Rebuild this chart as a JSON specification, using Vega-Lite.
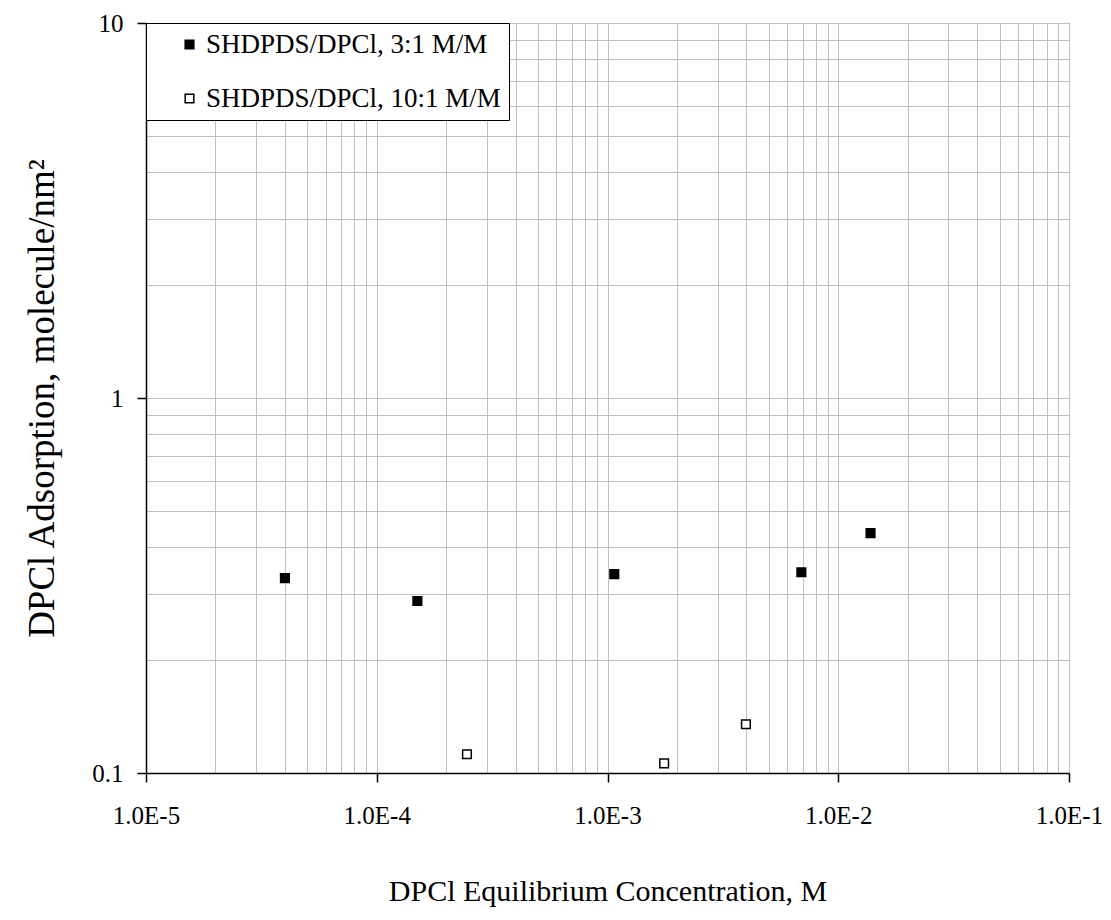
{
  "$schema": "https://vega.github.io/schema/vega-lite/v6.json",
  "width": 923,
  "height": 750,
  "autosize": {"type": "none"},
  "padding": {"left": 146, "top": 23, "right": 42, "bottom": 147},
  "background": "white",
  "config": {
    "font": "Liberation Serif",
    "view": {"stroke": "#000", "strokeWidth": 1},
    "axis": {
      "grid": true,
      "gridColor": "#c0c0c0",
      "gridWidth": 1,
      "domainColor": "#000",
      "domainWidth": 1.5,
      "tickColor": "#000",
      "tickWidth": 1.5,
      "labelFont": "Liberation Serif",
      "labelFontSize": 25,
      "labelColor": "#000",
      "titleFont": "Liberation Serif",
      "titleFontSize": 30,
      "titleFontWeight": "normal",
      "titleColor": "#000",
      "labelFlush": false,
      "labelOverlap": false
    }
  },
  "data": {
    "values": [
      {"series": "SHDPDS/DPCl, 3:1 M/M", "conc": 0.00004, "ads": 0.331},
      {"series": "SHDPDS/DPCl, 3:1 M/M", "conc": 0.00015, "ads": 0.2875},
      {"series": "SHDPDS/DPCl, 3:1 M/M", "conc": 0.00107, "ads": 0.339},
      {"series": "SHDPDS/DPCl, 3:1 M/M", "conc": 0.00692, "ads": 0.343},
      {"series": "SHDPDS/DPCl, 3:1 M/M", "conc": 0.0138, "ads": 0.436},
      {"series": "SHDPDS/DPCl, 10:1 M/M", "conc": 0.000246, "ads": 0.1122},
      {"series": "SHDPDS/DPCl, 10:1 M/M", "conc": 0.00176, "ads": 0.1061},
      {"series": "SHDPDS/DPCl, 10:1 M/M", "conc": 0.00398, "ads": 0.1349}
    ]
  },
  "mark": {"type": "square", "size": 75, "stroke": "#000", "strokeWidth": 1.5, "opacity": 1},
  "encoding": {
    "x": {
      "field": "conc",
      "type": "quantitative",
      "scale": {"type": "log", "domain": [0.00001, 0.1], "nice": false},
      "axis": {
        "title": "DPCl Equilibrium Concentration, M",
        "values": [0.00001, 0.00002, 0.00003, 0.00004, 0.00005, 0.00006, 0.00007, 0.00008, 0.00009,
                   0.0001, 0.0002, 0.0003, 0.0004, 0.0005, 0.0006, 0.0007, 0.0008, 0.0009,
                   0.001, 0.002, 0.003, 0.004, 0.005, 0.006, 0.007, 0.008, 0.009,
                   0.01, 0.02, 0.03, 0.04, 0.05, 0.06, 0.07, 0.08, 0.09, 0.1],
        "labelExpr": "abs(log(datum.value)/LN10 - round(log(datum.value)/LN10)) < 0.001 ? '1.0E-' + round(-log(datum.value)/LN10) : ''",
        "tickSize": {"condition": {"test": "abs(log(datum.value)/LN10 - round(log(datum.value)/LN10)) < 0.001", "value": 9}, "value": 0},
        "labelPadding": 21,
        "titlePadding": 48
      }
    },
    "y": {
      "field": "ads",
      "type": "quantitative",
      "scale": {"type": "log", "domain": [0.1, 10], "nice": false},
      "axis": {
        "title": "DPCl Adsorption, molecule/nm²",
        "titleFontSize": 37,
        "values": [0.1, 0.2, 0.3, 0.4, 0.5, 0.6, 0.7, 0.8, 0.9,
                   1, 2, 3, 4, 5, 6, 7, 8, 9, 10],
        "labelExpr": "abs(log(datum.value)/LN10 - round(log(datum.value)/LN10)) < 0.001 ? format(datum.value, '~g') : ''",
        "tickSize": {"condition": {"test": "abs(log(datum.value)/LN10 - round(log(datum.value)/LN10)) < 0.001", "value": 9}, "value": 0},
        "labelPadding": 14,
        "titlePadding": 30
      }
    },
    "fill": {
      "field": "series",
      "type": "nominal",
      "scale": {"domain": ["SHDPDS/DPCl, 3:1 M/M", "SHDPDS/DPCl, 10:1 M/M"], "range": ["#000000", "#ffffff"]},
      "legend": {
        "title": null,
        "orient": "top-left",
        "offset": 0,
        "padding": 8,
        "strokeColor": "#000",
        "fillColor": "#fff",
        "labelFont": "Liberation Serif",
        "labelFontSize": 27,
        "labelColor": "#000",
        "labelLimit": 500,
        "symbolType": "square",
        "symbolSize": 75,
        "symbolStrokeColor": "#000",
        "symbolStrokeWidth": 1.5,
        "symbolOffset": 22,
        "labelOffset": 3,
        "rowPadding": 26
      }
    }
  }
}
